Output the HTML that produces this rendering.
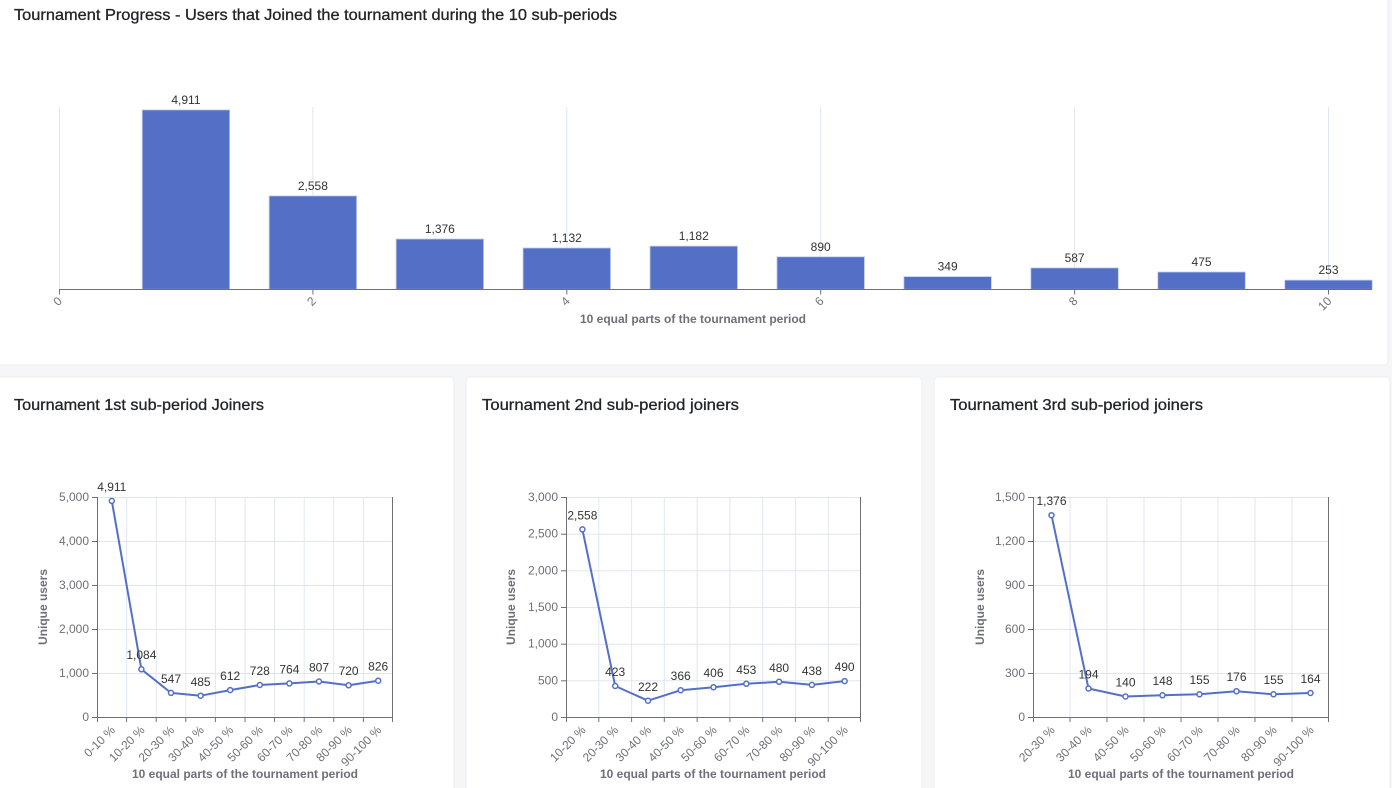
<!DOCTYPE html>
<html><head><meta charset="utf-8"><style>
html,body{margin:0;padding:0;background:#f5f6f8;}
body{width:1392px;height:788px;overflow:hidden;}
svg{display:block;}
text{font-family:"Liberation Sans",Arial,sans-serif;}
.t{font-size:12px;fill:#6e7079;}
.v{font-size:12px;fill:#333;}
.n{font-size:12px;fill:#6e7079;font-weight:bold;}
.h{font-size:16px;fill:#212529;stroke:#212529;stroke-width:0.3;}
.g{stroke:#e0e6f1;stroke-width:1;fill:none;}
.a{stroke:#6e7079;stroke-width:1;fill:none;}
.ln{stroke:#5470c6;stroke-width:2;fill:none;stroke-linejoin:round;}
.pt{fill:#fff;stroke:#5470c6;stroke-width:1.5;}
</style></head><body>
<svg width="1392" height="788" viewBox="0 0 1392 788" xmlns="http://www.w3.org/2000/svg">
<rect x="0" y="0" width="1392" height="788" fill="#f5f6f8"/>
<rect x="-4" y="-4" width="1392" height="369" rx="4" fill="#fff" stroke="#eceef1"/>
<rect x="-4" y="377" width="458" height="420" rx="4" fill="#fff" stroke="#eceef1"/>
<rect x="466" y="377" width="456" height="420" rx="4" fill="#fff" stroke="#eceef1"/>
<rect x="934" y="377" width="456" height="420" rx="4" fill="#fff" stroke="#eceef1"/>

<text class="h" x="14" y="20" textLength="603" lengthAdjust="spacingAndGlyphs">Tournament Progress - Users that Joined the tournament during the 10 sub-periods</text>
<text class="h" x="14" y="410" textLength="250" lengthAdjust="spacingAndGlyphs">Tournament 1st sub-period Joiners</text>
<text class="h" x="482" y="410" textLength="257" lengthAdjust="spacingAndGlyphs">Tournament 2nd sub-period joiners</text>
<text class="h" x="950" y="410" textLength="253" lengthAdjust="spacingAndGlyphs">Tournament 3rd sub-period joiners</text>

<!-- TOP CHART -->
<g class="g">
<line x1="59.5" y1="107" x2="59.5" y2="289"/>
<line x1="312.9" y1="107" x2="312.9" y2="289"/>
<line x1="566.8" y1="107" x2="566.8" y2="289"/>
<line x1="820.7" y1="107" x2="820.7" y2="289"/>
<line x1="1074.6" y1="107" x2="1074.6" y2="289"/>
<line x1="1328.5" y1="107" x2="1328.5" y2="289"/>
</g>
<g fill="#5470c6" stroke="#c3cdee" stroke-width="0.8">
<rect x="142.2" y="109.9" width="87.5" height="179.4"/>
<rect x="269.15" y="195.9" width="87.5" height="93.4"/>
<rect x="396.1" y="239.0" width="87.5" height="50.3"/>
<rect x="523.05" y="248.0" width="87.5" height="41.3"/>
<rect x="650.0" y="246.1" width="87.5" height="43.2"/>
<rect x="776.95" y="256.8" width="87.5" height="32.5"/>
<rect x="903.9" y="276.6" width="87.5" height="12.7"/>
<rect x="1030.85" y="267.9" width="87.5" height="21.4"/>
<rect x="1157.8" y="272.0" width="87.5" height="17.3"/>
<rect x="1284.75" y="280.1" width="87.5" height="9.2"/>
</g>
<g class="v" text-anchor="middle">
<text x="185.95" y="104">4,911</text>
<text x="312.9" y="190">2,558</text>
<text x="439.85" y="233">1,376</text>
<text x="566.8" y="242">1,132</text>
<text x="693.75" y="240">1,182</text>
<text x="820.7" y="251">890</text>
<text x="947.65" y="270.5">349</text>
<text x="1074.6" y="262">587</text>
<text x="1201.55" y="266">475</text>
<text x="1328.5" y="274">253</text>
</g>
<g class="a">
<line x1="59" y1="289.5" x2="1372" y2="289.5"/>
<line x1="59.5" y1="289.5" x2="59.5" y2="294.5"/>
<line x1="312.9" y1="289.5" x2="312.9" y2="294.5"/>
<line x1="566.8" y1="289.5" x2="566.8" y2="294.5"/>
<line x1="820.7" y1="289.5" x2="820.7" y2="294.5"/>
<line x1="1074.6" y1="289.5" x2="1074.6" y2="294.5"/>
<line x1="1328.5" y1="289.5" x2="1328.5" y2="294.5"/>
</g>
<g class="t" text-anchor="end" dominant-baseline="central">
<text transform="translate(60,299) rotate(-45)">0</text>
<text transform="translate(313.9,299) rotate(-45)">2</text>
<text transform="translate(567.8,299) rotate(-45)">4</text>
<text transform="translate(821.7,299) rotate(-45)">6</text>
<text transform="translate(1075.6,299) rotate(-45)">8</text>
<text transform="translate(1329.5,299) rotate(-45)">10</text>
</g>
<text class="n" x="693" y="323" text-anchor="middle">10 equal parts of the tournament period</text>

<!-- CHART 1 -->
<g class="g">
<line x1="97" y1="497.5" x2="393" y2="497.5"/>
<line x1="97" y1="541.5" x2="393" y2="541.5"/>
<line x1="97" y1="585.5" x2="393" y2="585.5"/>
<line x1="97" y1="629.5" x2="393" y2="629.5"/>
<line x1="97" y1="673.5" x2="393" y2="673.5"/>
<line x1="126.6" y1="497" x2="126.6" y2="717"/>
<line x1="156.2" y1="497" x2="156.2" y2="717"/>
<line x1="185.8" y1="497" x2="185.8" y2="717"/>
<line x1="215.4" y1="497" x2="215.4" y2="717"/>
<line x1="245" y1="497" x2="245" y2="717"/>
<line x1="274.6" y1="497" x2="274.6" y2="717"/>
<line x1="304.2" y1="497" x2="304.2" y2="717"/>
<line x1="333.8" y1="497" x2="333.8" y2="717"/>
<line x1="363.4" y1="497" x2="363.4" y2="717"/>
</g>
<g class="a">
<line x1="97.5" y1="497" x2="97.5" y2="717.5"/>
<line x1="392.5" y1="497" x2="392.5" y2="722"/>
<line x1="97" y1="717.5" x2="393" y2="717.5"/>
<line x1="92" y1="497.5" x2="97" y2="497.5"/>
<line x1="92" y1="541.5" x2="97" y2="541.5"/>
<line x1="92" y1="585.5" x2="97" y2="585.5"/>
<line x1="92" y1="629.5" x2="97" y2="629.5"/>
<line x1="92" y1="673.5" x2="97" y2="673.5"/>
<line x1="92" y1="717.5" x2="97" y2="717.5"/>
<line x1="97.5" y1="717" x2="97.5" y2="722"/>
<line x1="126.6" y1="717" x2="126.6" y2="722"/>
<line x1="156.2" y1="717" x2="156.2" y2="722"/>
<line x1="185.8" y1="717" x2="185.8" y2="722"/>
<line x1="215.4" y1="717" x2="215.4" y2="722"/>
<line x1="245" y1="717" x2="245" y2="722"/>
<line x1="274.6" y1="717" x2="274.6" y2="722"/>
<line x1="304.2" y1="717" x2="304.2" y2="722"/>
<line x1="333.8" y1="717" x2="333.8" y2="722"/>
<line x1="363.4" y1="717" x2="363.4" y2="722"/>
</g>
<g class="t" text-anchor="end" dominant-baseline="central">
<text x="89" y="497">5,000</text>
<text x="89" y="541">4,000</text>
<text x="89" y="585">3,000</text>
<text x="89" y="629">2,000</text>
<text x="89" y="673">1,000</text>
<text x="89" y="717">0</text>
<text transform="translate(113,728) rotate(-45)">0-10 %</text>
<text transform="translate(142.6,728) rotate(-45)">10-20 %</text>
<text transform="translate(172.2,728) rotate(-45)">20-30 %</text>
<text transform="translate(201.8,728) rotate(-45)">30-40 %</text>
<text transform="translate(231.4,728) rotate(-45)">40-50 %</text>
<text transform="translate(261,728) rotate(-45)">50-60 %</text>
<text transform="translate(290.6,728) rotate(-45)">60-70 %</text>
<text transform="translate(320.2,728) rotate(-45)">70-80 %</text>
<text transform="translate(349.8,728) rotate(-45)">80-90 %</text>
<text transform="translate(379.4,728) rotate(-45)">90-100 %</text>
</g>
<text class="n" transform="translate(47,607) rotate(-90)" text-anchor="middle">Unique users</text>
<text class="n" x="245" y="778" text-anchor="middle">10 equal parts of the tournament period</text>
<polyline class="ln" points="111.8,500.9 141.4,669.3 171,692.9 200.6,695.7 230.2,690.1 259.8,685 289.4,683.4 319,681.5 348.6,685.3 378.2,680.7"/>
<g class="pt">
<circle cx="111.8" cy="500.9" r="2.5"/><circle cx="141.4" cy="669.3" r="2.5"/><circle cx="171" cy="692.9" r="2.5"/><circle cx="200.6" cy="695.7" r="2.5"/><circle cx="230.2" cy="690.1" r="2.5"/><circle cx="259.8" cy="685" r="2.5"/><circle cx="289.4" cy="683.4" r="2.5"/><circle cx="319" cy="681.5" r="2.5"/><circle cx="348.6" cy="685.3" r="2.5"/><circle cx="378.2" cy="680.7" r="2.5"/>
</g>
<g class="v" text-anchor="middle">
<text x="111.8" y="491">4,911</text>
<text x="141.4" y="659">1,084</text>
<text x="171" y="683">547</text>
<text x="200.6" y="686">485</text>
<text x="230.2" y="680">612</text>
<text x="259.8" y="675">728</text>
<text x="289.4" y="673.5">764</text>
<text x="319" y="671.5">807</text>
<text x="348.6" y="675">720</text>
<text x="378.2" y="670.5">826</text>
</g>

<!-- CHART 2 -->
<g class="g">
<line x1="566" y1="497.5" x2="861" y2="497.5"/>
<line x1="566" y1="534.2" x2="861" y2="534.2"/>
<line x1="566" y1="570.8" x2="861" y2="570.8"/>
<line x1="566" y1="607.5" x2="861" y2="607.5"/>
<line x1="566" y1="644.2" x2="861" y2="644.2"/>
<line x1="566" y1="680.8" x2="861" y2="680.8"/>
<line x1="598.8" y1="497" x2="598.8" y2="717"/>
<line x1="631.6" y1="497" x2="631.6" y2="717"/>
<line x1="664.3" y1="497" x2="664.3" y2="717"/>
<line x1="697.1" y1="497" x2="697.1" y2="717"/>
<line x1="729.9" y1="497" x2="729.9" y2="717"/>
<line x1="762.7" y1="497" x2="762.7" y2="717"/>
<line x1="795.4" y1="497" x2="795.4" y2="717"/>
<line x1="828.2" y1="497" x2="828.2" y2="717"/>
</g>
<g class="a">
<line x1="566.5" y1="497" x2="566.5" y2="717.5"/>
<line x1="860.5" y1="497" x2="860.5" y2="722"/>
<line x1="566" y1="717.5" x2="861" y2="717.5"/>
<line x1="561" y1="497.5" x2="566" y2="497.5"/>
<line x1="561" y1="534.2" x2="566" y2="534.2"/>
<line x1="561" y1="570.8" x2="566" y2="570.8"/>
<line x1="561" y1="607.5" x2="566" y2="607.5"/>
<line x1="561" y1="644.2" x2="566" y2="644.2"/>
<line x1="561" y1="680.8" x2="566" y2="680.8"/>
<line x1="561" y1="717.5" x2="566" y2="717.5"/>
<line x1="566.5" y1="717" x2="566.5" y2="722"/>
<line x1="598.8" y1="717" x2="598.8" y2="722"/>
<line x1="631.6" y1="717" x2="631.6" y2="722"/>
<line x1="664.3" y1="717" x2="664.3" y2="722"/>
<line x1="697.1" y1="717" x2="697.1" y2="722"/>
<line x1="729.9" y1="717" x2="729.9" y2="722"/>
<line x1="762.7" y1="717" x2="762.7" y2="722"/>
<line x1="795.4" y1="717" x2="795.4" y2="722"/>
<line x1="828.2" y1="717" x2="828.2" y2="722"/>
</g>
<g class="t" text-anchor="end" dominant-baseline="central">
<text x="558" y="497">3,000</text>
<text x="558" y="533.7">2,500</text>
<text x="558" y="570.3">2,000</text>
<text x="558" y="607">1,500</text>
<text x="558" y="643.7">1,000</text>
<text x="558" y="680.3">500</text>
<text x="558" y="717">0</text>
<text transform="translate(583.6,728) rotate(-45)">10-20 %</text>
<text transform="translate(616.4,728) rotate(-45)">20-30 %</text>
<text transform="translate(649.2,728) rotate(-45)">30-40 %</text>
<text transform="translate(681.9,728) rotate(-45)">40-50 %</text>
<text transform="translate(714.7,728) rotate(-45)">50-60 %</text>
<text transform="translate(747.5,728) rotate(-45)">60-70 %</text>
<text transform="translate(780.3,728) rotate(-45)">70-80 %</text>
<text transform="translate(813.1,728) rotate(-45)">80-90 %</text>
<text transform="translate(845.8,728) rotate(-45)">90-100 %</text>
</g>
<text class="n" transform="translate(515,607) rotate(-90)" text-anchor="middle">Unique users</text>
<text class="n" x="713" y="778" text-anchor="middle">10 equal parts of the tournament period</text>
<polyline class="ln" points="582.4,529.4 615.2,686 648,700.7 680.7,690.2 713.5,687.2 746.3,683.8 779.1,681.8 811.9,684.9 844.6,681.1"/>
<g class="pt">
<circle cx="582.4" cy="529.4" r="2.5"/><circle cx="615.2" cy="686" r="2.5"/><circle cx="648" cy="700.7" r="2.5"/><circle cx="680.7" cy="690.2" r="2.5"/><circle cx="713.5" cy="687.2" r="2.5"/><circle cx="746.3" cy="683.8" r="2.5"/><circle cx="779.1" cy="681.8" r="2.5"/><circle cx="811.9" cy="684.9" r="2.5"/><circle cx="844.6" cy="681.1" r="2.5"/>
</g>
<g class="v" text-anchor="middle">
<text x="582.4" y="519.5">2,558</text>
<text x="615.2" y="676">423</text>
<text x="648" y="691">222</text>
<text x="680.7" y="680">366</text>
<text x="713.5" y="677">406</text>
<text x="746.3" y="674">453</text>
<text x="779.1" y="672">480</text>
<text x="811.9" y="675">438</text>
<text x="844.6" y="671">490</text>
</g>

<!-- CHART 3 -->
<g class="g">
<line x1="1033" y1="497.5" x2="1329" y2="497.5"/>
<line x1="1033" y1="541.5" x2="1329" y2="541.5"/>
<line x1="1033" y1="585.5" x2="1329" y2="585.5"/>
<line x1="1033" y1="629.5" x2="1329" y2="629.5"/>
<line x1="1033" y1="673.5" x2="1329" y2="673.5"/>
<line x1="1070" y1="497" x2="1070" y2="717"/>
<line x1="1107" y1="497" x2="1107" y2="717"/>
<line x1="1144" y1="497" x2="1144" y2="717"/>
<line x1="1181" y1="497" x2="1181" y2="717"/>
<line x1="1218" y1="497" x2="1218" y2="717"/>
<line x1="1255" y1="497" x2="1255" y2="717"/>
<line x1="1292" y1="497" x2="1292" y2="717"/>
</g>
<g class="a">
<line x1="1033.5" y1="497" x2="1033.5" y2="717.5"/>
<line x1="1328.5" y1="497" x2="1328.5" y2="722"/>
<line x1="1033" y1="717.5" x2="1329" y2="717.5"/>
<line x1="1028" y1="497.5" x2="1033" y2="497.5"/>
<line x1="1028" y1="541.5" x2="1033" y2="541.5"/>
<line x1="1028" y1="585.5" x2="1033" y2="585.5"/>
<line x1="1028" y1="629.5" x2="1033" y2="629.5"/>
<line x1="1028" y1="673.5" x2="1033" y2="673.5"/>
<line x1="1028" y1="717.5" x2="1033" y2="717.5"/>
<line x1="1033.5" y1="717" x2="1033.5" y2="722"/>
<line x1="1070" y1="717" x2="1070" y2="722"/>
<line x1="1107" y1="717" x2="1107" y2="722"/>
<line x1="1144" y1="717" x2="1144" y2="722"/>
<line x1="1181" y1="717" x2="1181" y2="722"/>
<line x1="1218" y1="717" x2="1218" y2="722"/>
<line x1="1255" y1="717" x2="1255" y2="722"/>
<line x1="1292" y1="717" x2="1292" y2="722"/>
</g>
<g class="t" text-anchor="end" dominant-baseline="central">
<text x="1025" y="497">1,500</text>
<text x="1025" y="541">1,200</text>
<text x="1025" y="585">900</text>
<text x="1025" y="629">600</text>
<text x="1025" y="673">300</text>
<text x="1025" y="717">0</text>
<text transform="translate(1052.7,728) rotate(-45)">20-30 %</text>
<text transform="translate(1089.7,728) rotate(-45)">30-40 %</text>
<text transform="translate(1126.7,728) rotate(-45)">40-50 %</text>
<text transform="translate(1163.7,728) rotate(-45)">50-60 %</text>
<text transform="translate(1200.7,728) rotate(-45)">60-70 %</text>
<text transform="translate(1237.7,728) rotate(-45)">70-80 %</text>
<text transform="translate(1274.7,728) rotate(-45)">80-90 %</text>
<text transform="translate(1311.7,728) rotate(-45)">90-100 %</text>
</g>
<text class="n" transform="translate(984,607) rotate(-90)" text-anchor="middle">Unique users</text>
<text class="n" x="1181" y="778" text-anchor="middle">10 equal parts of the tournament period</text>
<polyline class="ln" points="1051.5,515.2 1088.5,688.5 1125.5,696.5 1162.5,695.3 1199.5,694.3 1236.5,691.2 1273.5,694.3 1310.5,693"/>
<g class="pt">
<circle cx="1051.5" cy="515.2" r="2.5"/><circle cx="1088.5" cy="688.5" r="2.5"/><circle cx="1125.5" cy="696.5" r="2.5"/><circle cx="1162.5" cy="695.3" r="2.5"/><circle cx="1199.5" cy="694.3" r="2.5"/><circle cx="1236.5" cy="691.2" r="2.5"/><circle cx="1273.5" cy="694.3" r="2.5"/><circle cx="1310.5" cy="693" r="2.5"/>
</g>
<g class="v" text-anchor="middle">
<text x="1051.5" y="505">1,376</text>
<text x="1088.5" y="678.5">194</text>
<text x="1125.5" y="686.5">140</text>
<text x="1162.5" y="685">148</text>
<text x="1199.5" y="684">155</text>
<text x="1236.5" y="681">176</text>
<text x="1273.5" y="684">155</text>
<text x="1310.5" y="683">164</text>
</g>
</svg>
</body></html>
